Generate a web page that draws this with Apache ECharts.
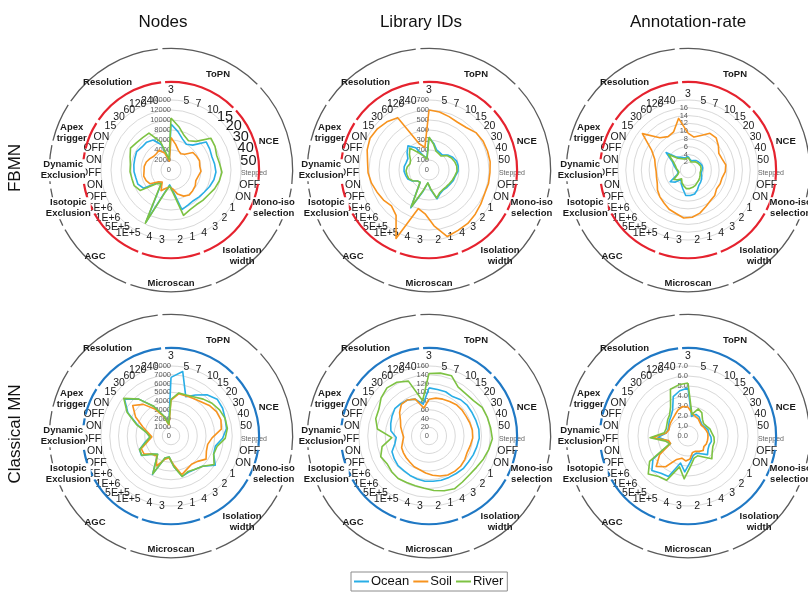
<!DOCTYPE html>
<html><head><meta charset="utf-8">
<script src="https://cdn.jsdelivr.net/npm/echarts@6/dist/echarts.min.js"></script>
<style>html,body{margin:0;padding:0;background:#fff}#c{width:808px;height:593px}</style>
</head><body><div id="c"></div>
<script>
// ---------- categories / labels ----------
const categories = ['3','5','7','10','15','20','30','40','50','Stepped','OFF','ON','1','2','3','4','1','2','3','4','1E+5','5E+5','1E+6','5E+6','OFF','ON','OFF','ON','OFF','ON','15','30','60','120','240'];
const groupNames = ['ToPN','NCE','Mono-iso\nselection','Isolation\nwidth','Microscan','AGC','Isotopic\nExclusion','Dynamic\nExclusion','Apex\ntrigger','Resolution'];
const groupSizes = [5,5,2,4,4,4,2,2,2,5];
const seriesNames = ['Ocean','Soil','River'];
const columnTitles = ['Nodes','Library IDs','Annotation-rate'];
const rowTitles = ['FBMN','Classical MN'];
const axisMax = [14000, 700, 18, 8000, 160, 7];
const axisSplit = [7, 7, 9, 8, 8, 7];

// ---------- values (clockwise from ToPN 3) ----------
const nodesFbmnOcean = [9200,7800,6600,6000,6600,9000,8800,8600,8800,9000,8800,8400,8000,7800,7600,7800,8200,4200,3000,4600,11600,3200,3600,6600,7200,7200,7400,7500,7600,7800,7400,7400,7000,5400,2000];
const nodesFbmnSoil  = [6500,5200,4200,3800,4200,5600,5800,6000,5800,6000,5600,5400,5800,6000,6200,5800,5000,3800,3400,3800,4600,3000,3400,5000,5400,5600,5400,5400,5200,4800,4400,4400,4600,3600,1800];
const nodesFbmnRiver = [10400,8800,7400,6800,7600,10200,10000,9600,9800,10200,9900,9500,9000,8800,8600,8800,9400,4600,3200,4800,11800,3400,4000,7400,8000,8000,8200,8200,8600,9200,8800,8600,8600,6000,2200];

const libFbmnOcean = [325,270,215,205,200,240,270,290,295,290,270,265,255,250,245,260,300,200,130,220,420,150,160,200,230,240,250,250,240,240,280,320,260,150,120];
const libFbmnSoil  = [600,590,570,556,565,600,613,615,617,610,610,605,620,640,660,670,690,560,440,400,760,560,520,545,565,590,610,620,650,670,660,640,610,280,230];
const libFbmnRiver = [330,260,200,190,185,230,255,270,280,280,265,255,245,240,240,250,290,190,130,210,410,150,160,195,220,225,230,220,200,210,250,290,200,150,110];

const annFbmnOcean = [3.5,2.8,2.5,2.8,3.2,3.4,3.6,3.8,3.8,3.6,3.5,3.8,4.2,4.5,4.8,5.6,6.4,6.6,6.6,5.0,4.0,3.0,4.5,5.5,3.0,2.6,2.8,3.2,3.8,4.6,7.2,4.4,3.8,3.4,3.2];
const annFbmnSoil  = [9.5,8.6,9.5,11.0,11.0,10.0,9.0,9.2,9.8,9.6,9.0,9.0,8.8,9.5,9.8,10.5,11.5,12.2,12.4,11.6,11.2,10.5,10.0,9.4,8.6,8.3,8.2,8.5,9.0,10.6,15.0,11.0,10.0,10.5,13.5];
const annFbmnRiver = [3.2,2.6,2.2,2.4,2.8,3.0,3.2,3.4,3.4,3.3,3.2,3.4,3.6,3.8,4.0,4.4,4.6,4.8,4.8,4.2,3.6,2.8,3.6,4.4,2.8,2.4,2.6,3.0,3.4,4.2,6.4,4.0,3.4,3.0,3.0];

const nodesMnOcean = [6700,7500,4800,5450,6250,6750,6700,6500,6400,5900,5200,5300,6060,5000,4700,4600,4780,3500,2400,2600,4870,2600,3000,4050,3900,3000,2400,2800,4000,5600,6800,5600,4000,2500,1400];
const nodesMnSoil  = [4100,4900,4900,5000,5200,5600,5900,6000,5800,4700,4300,4400,4800,4200,4000,4200,4600,3300,2500,2800,3800,2800,3000,3700,3700,2700,2200,2600,3400,4600,5600,4800,3600,2400,1300];
const nodesMnRiver = [4200,5000,5000,5200,5600,6000,6300,6500,6500,6200,5400,5300,5900,5000,4700,4500,4800,3500,2400,2600,4800,2600,3000,4000,3900,2900,2400,2800,4100,5700,6900,5600,4000,2500,1400];

const libMnOcean = [110,108,108,105,110,112,112,113,115,115,112,110,108,108,106,105,105,104,104,102,100,98,98,95,92,80,75,88,92,96,100,98,96,90,74];
const libMnSoil  = [84,88,90,92,95,96,96,98,100,100,97,95,98,100,100,99,95,90,85,80,78,74,72,70,68,62,58,62,68,74,86,96,96,90,65];
const libMnRiver = [143,146,147,130,128,130,138,140,142,145,140,135,130,128,130,134,130,125,120,118,118,120,118,115,120,110,85,119,128,130,140,146,143,134,82];

const annMnOcean = [4.8,2.0,2.3,2.2,1.9,1.8,1.9,2.1,2.1,2.3,2.4,2.3,2.4,2.7,2.2,1.9,2.0,2.6,3.6,2.8,4.5,4.6,5.0,4.2,1.9,2.1,3.0,2.2,2.1,2.2,2.4,2.6,3.0,4.2,4.6];
const annMnSoil  = [2.9,2.3,2.1,2.0,1.8,1.7,1.8,1.9,2.0,2.0,2.0,2.0,1.9,2.1,1.9,1.7,1.7,2.3,2.5,2.3,2.6,3.8,4.4,3.4,1.9,2.0,3.6,2.2,2.0,2.1,2.2,2.3,2.5,2.8,3.0];
const annMnRiver = [5.3,2.2,2.9,2.7,2.2,2.0,2.1,2.3,2.4,2.6,2.7,2.7,2.9,3.3,2.6,2.2,2.3,3.0,4.3,3.2,4.9,5.0,5.5,4.6,2.0,2.3,3.8,2.4,2.3,2.4,2.6,2.8,3.4,5.0,5.2];

const panelValues = [
  [nodesFbmnOcean, nodesFbmnSoil, nodesFbmnRiver],
  [libFbmnOcean, libFbmnSoil, libFbmnRiver],
  [annFbmnOcean, annFbmnSoil, annFbmnRiver],
  [nodesMnOcean, nodesMnSoil, nodesMnRiver],
  [libMnOcean, libMnSoil, libMnRiver],
  [annMnOcean, annMnSoil, annMnRiver]
];

// ---------- layout & style ----------
const colX = [171, 429, 688];
const rowY = [170, 436];
const seriesColors = ['#29AEE6', '#F7931E', '#7DC242'];
const ringColors = ['#E5222E', '#1F78C4'];
const FONT = 'Liberation Sans';
// small horizontal nudges of the group captions (label padding: top, right, bottom, left)
const groupLabelPadding = [[0,0,0,18],[0,10,0,0],null,null,null,[0,10,0,0],null,null,null,[0,16,0,0]];
const groupLabelWhiteBg = [false,false,true,false,false,false,true,true,false,false];
const N = categories.length;
// ECharts radar lays indicators counter-clockwise; reverse so they run clockwise
const order = [0].concat(Array.from({length: N - 1}, (_, k) => N - 1 - k));
const toRadar = arr => order.map(i => arr[i]);

const radars = [], series = [];
panelValues.forEach((vals, p) => {
  const row = Math.floor(p / 3), col = p % 3;
  const cx = colX[col], cy = rowY[row];
  const bigNames = (p === 0);
  radars.push({
    center: [cx, cy], radius: 70, startAngle: 90, shape: 'circle',
    splitNumber: axisSplit[p], nameGap: 0,
    indicator: order.map((idx, k) => {
      const ind = {name: categories[idx], min: 0, max: axisMax[p], big: bigNames && idx >= 4 && idx <= 8};
      if (k === 0) ind.axisLabel = {show: true, fontSize: 7.5, color: '#595959', fontFamily: FONT, margin: 0,
        formatter: p === 5 ? (v => Number(v).toFixed(1)) : (v => String(v))};
      return ind;
    }),
    axisName: {
      color: '#1a1a1a', fontSize: 10.5, fontFamily: FONT,
      formatter: (n, ind) => n === 'Stepped' ? '{s|Stepped}' : (ind && ind.big ? '{b|' + n + '}' : n),
      rich: {s: {fontSize: 7, color: '#666', fontFamily: FONT}, b: {fontSize: 14.5, color: '#1a1a1a', fontFamily: FONT}}
    },
    splitLine: {lineStyle: {color: '#d9d9d9', width: 1}},
    splitArea: {show: false},
    axisLine: {show: false},
    axisTick: {show: false},
    axisLabel: {show: false}
  });
  series.push({
    type: 'radar', radarIndex: p, symbol: 'none', silent: true, z: 3,
    data: seriesNames.map((n, s) => ({
      name: n, value: toRadar(vals[s]),
      lineStyle: {color: seriesColors[s], width: 1.6},
      itemStyle: {color: seriesColors[s]}
    }))
  });
  const ringData = groupNames.map((n, g) => ({name: n, value: groupSizes[g]}));
  const start = 90 + 180 / N;
  series.push({
    type: 'pie', center: [cx, cy], radius: [87, 89.2], startAngle: start, padAngle: 2.6,
    silent: true, label: {show: false}, labelLine: {show: false}, z: 1,
    itemStyle: {color: ringColors[row]}, emphasis: {disabled: true}, data: ringData
  });
  series.push({
    type: 'pie', center: [cx, cy], radius: [121, 122.3], startAngle: start, padAngle: 2.2,
    silent: true, label: {show: false}, labelLine: {show: false}, z: 1,
    itemStyle: {color: '#5a5a5a'}, emphasis: {disabled: true}, data: ringData
  });
  series.push({
    type: 'pie', center: [cx, cy + 5], radius: [95, 115], startAngle: start,
    silent: true, labelLine: {show: false}, z: 4,
    itemStyle: {color: 'rgba(0,0,0,0)'}, emphasis: {disabled: true},
    label: {show: true, position: 'inside', rotate: 0, formatter: '{b}', fontSize: 9.5, fontWeight: 'bold',
      color: '#1a1a1a', fontFamily: FONT, lineHeight: 11, align: 'center'},
    data: groupNames.map((n, g) => {
      const lab = {};
      if (groupLabelWhiteBg[g]) lab.backgroundColor = '#fff';
      if (groupLabelPadding[g]) lab.padding = groupLabelPadding[g];
      return {name: n, value: groupSizes[g], label: lab};
    })
  });
});

const graphics = [];
columnTitles.forEach((t, c) => graphics.push({
  type: 'text', x: colX[c] - 8 + (c === 2 ? 8 : 0), y: 22,
  style: {text: t, fontSize: 17, fontFamily: FONT, fill: '#111', align: 'center', verticalAlign: 'middle', textAlign: 'center', textVerticalAlign: 'middle'}
}));
rowTitles.forEach((t, r) => graphics.push({
  type: 'text', x: 15, y: rowY[r] - 2, rotation: Math.PI / 2,
  style: {text: t, fontSize: 17, fontFamily: FONT, fill: '#111', align: 'center', verticalAlign: 'middle', textAlign: 'center', textVerticalAlign: 'middle'}
}));

const chart = echarts.init(document.getElementById('c'), null, {renderer: 'canvas'});
chart.setOption({
  animation: false,
  backgroundColor: '#fff',
  radar: radars,
  series: series,
  graphic: graphics,
  legend: {
    data: seriesNames, left: 351, top: 572, icon: 'rect', itemWidth: 15, itemHeight: 2, itemGap: 4,
    padding: [3, 4, 3, 3], borderColor: '#8c8c8c', borderWidth: 1, selectedMode: false,
    textStyle: {fontSize: 13, fontFamily: FONT, color: '#111', padding: [0, 0, 0, -3]}
  }
});
</script></body></html>
